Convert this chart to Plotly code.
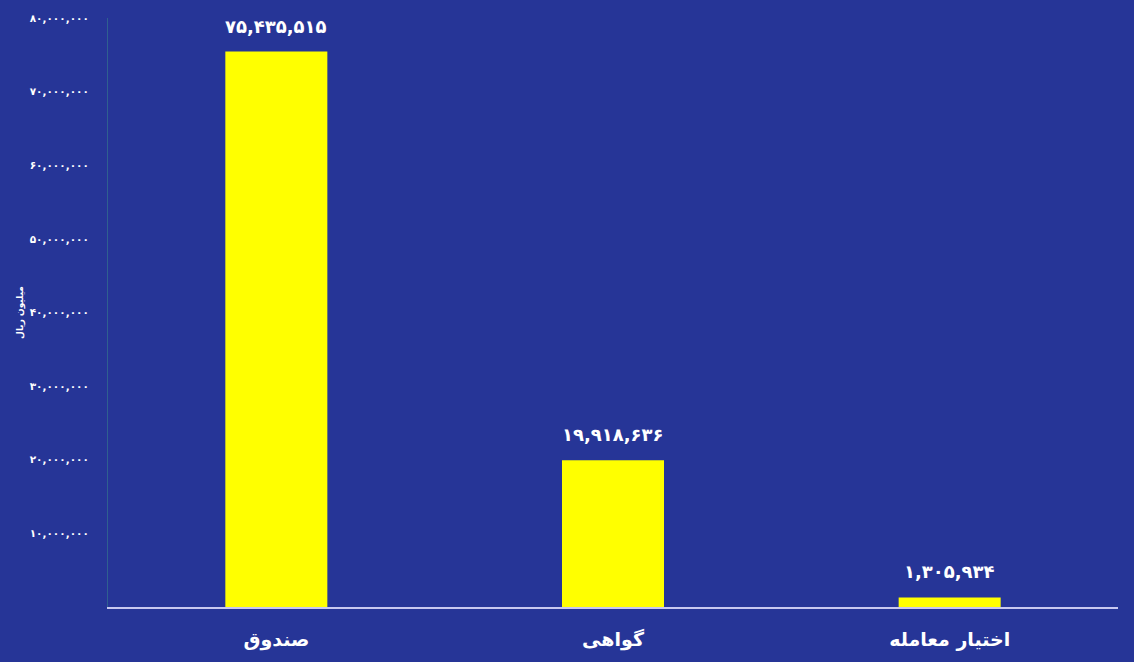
import plotly.graph_objects as go

categories = ["صندوق", "گواهی", "اختیار معامله"]
values = [75435515, 19918636, 1305934]
tick_values = [10000000, 20000000, 30000000, 40000000, 50000000, 60000000, 70000000, 80000000]

FA = str.maketrans("0123456789", "۰۱۲۳۴۵۶۷۸۹")
def fa(n):
    return f"{n:,}".translate(FA)

tick_text = [fa(v) for v in tick_values]
bar_text = [fa(v) for v in values]

BG = "#263597"
FONT = "DejaVu Sans"

fig = go.Figure(go.Bar(
    x=categories, y=values,
    marker=dict(color="#ffff00", line=dict(width=0)),
    width=0.303,
))

for c, v, t in zip(categories, values, bar_text):
    fig.add_annotation(
        x=c, y=v, text=t, showarrow=False,
        yanchor="bottom", yshift=13,
        font=dict(family=FONT, size=18, color="white", weight="bold"),
    )

fig.update_layout(
    width=1134, height=662,
    paper_bgcolor=BG, plot_bgcolor=BG,
    margin=dict(l=108, r=16, t=18, b=55),
    showlegend=False,
    font=dict(family=FONT, color="white"),
)
fig.update_xaxes(
    showline=True, linecolor="#c8c8f0", linewidth=2,
    showgrid=False, ticks="", range=[-0.5, 2.5], automargin=False,
    ticklabelstandoff=14,
    tickfont=dict(family=FONT, size=19, color="white", weight="bold"),
)
fig.update_yaxes(
    range=[0, 80000000], showgrid=False, zeroline=False, automargin=False,
    showline=True, linecolor="#2f6090", linewidth=1,
    tickvals=tick_values, ticktext=tick_text, ticks="",
    ticklabelstandoff=16,
    tickfont=dict(family=FONT, size=10.5, color="white", weight="bold"),
    title=dict(text="میلیون ریال", font=dict(family=FONT, size=9, color="white", weight="bold"), standoff=4),
)

fig.write_html(
    "out.html",
    config={"displayModeBar": False},
    post_script="document.body.style.margin='0';document.body.style.background='%s';" % BG,
)
